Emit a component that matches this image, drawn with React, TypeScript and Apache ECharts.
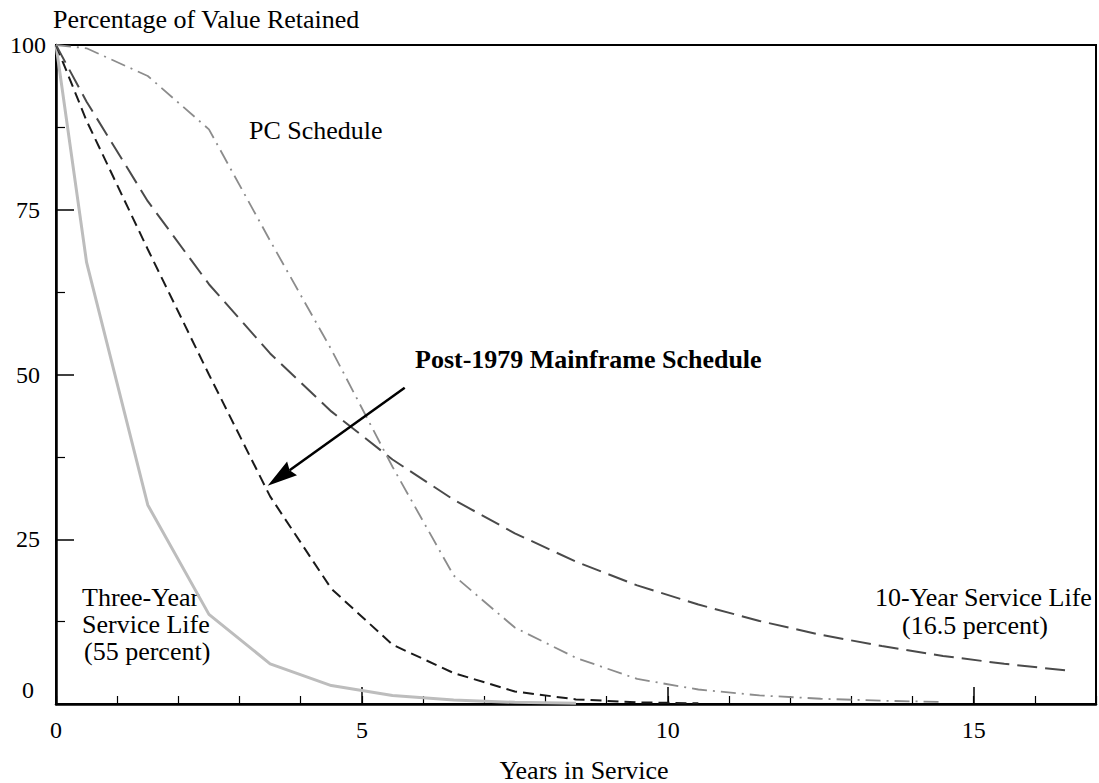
import React, { useEffect, useRef } from "react";
import * as echarts from "echarts";

// Years in service (half-year convention)
const years = [0, 0.5, 1.5, 2.5, 3.5, 4.5, 5.5, 6.5, 7.5, 8.5, 9.5, 10.5, 11.5, 12.5, 13.5, 14.5, 15.5, 16.5];

// Percentage of value retained
const threeYear = [100, 67, 30.2, 13.6, 6.1, 2.8, 1.3, 0.6, 0.25, 0.1];
const mainframe = [100, 88.5, 69, 50, 31.5, 17.5, 9, 4.7, 1.9, 0.7, 0.25, 0.1];
const tenYear = [100, 91.4, 76.3, 63.7, 53.2, 44.4, 37.1, 31, 25.9, 21.6, 18, 15.1, 12.6, 10.5, 8.8, 7.3, 6.1, 5.1];
const pcSchedule = [100, 99.5, 95.3, 87.2, 70.3, 53.8, 36, 19.5, 11.6, 7, 3.8, 2.2, 1.3, 0.8, 0.5, 0.3];

// Axis setup
const xMax = 17;
const xLabelStep = 5;
const yTickStep = 25;

// Arrow annotation (data coordinates)
const arrowFrom = [5.7, 48.0];
const arrowTo = [3.46, 33.1];

const FONT = "'Liberation Serif', 'Times New Roman', Times, serif";

const toPairs = (vals: number[]) => vals.map((v, i) => [years[i], v]);

export default function App() {
  const ref = useRef<HTMLDivElement>(null);

  useEffect(() => {
    if (!ref.current) return;
    const chart = echarts.init(ref.current, null, { renderer: "svg" });

    const txt = (text: string, x: number, y: number, opts: any = {}) => ({
      type: "text",
      x,
      y,
      silent: true,
      style: {
        text,
        fill: "#000",
        fontFamily: FONT,
        fontSize: opts.size || 26,
        fontWeight: opts.weight || "normal",
        textAlign: opts.align || "left",
        textVerticalAlign: "middle",
        lineHeight: opts.lineHeight,
        rich: opts.rich,
      },
    });

    const texts = [
      txt("Percentage of Value Retained", 53, 19),
      txt("Years in Service", 584, 770, { align: "center" }),
      txt("PC Schedule", 249, 130),
      txt("Post-1979 Mainframe Schedule", 415, 359, { weight: "bold" }),
      txt("Three-Year\nService Life\n{p|(55 percent)}", 82, 624, {
        lineHeight: 27,
        rich: { p: { fontFamily: FONT, fontSize: 26, lineHeight: 27, padding: [0, 0, 0, 2] } },
      }),
      txt("10-Year Service Life\n{p|(16.5 percent)}", 875, 611, {
        lineHeight: 28,
        rich: { p: { fontFamily: FONT, fontSize: 26, lineHeight: 28, padding: [0, 0, 0, 27] } },
      }),
    ];

    chart.setOption({
      animation: false,
      backgroundColor: "#fff",
      textStyle: { fontFamily: FONT },
      grid: {
        left: 56,
        right: 2,
        top: 45,
        bottom: 79,
        show: true,
        borderColor: "#000",
        borderWidth: 2,
        containLabel: false,
      },
      xAxis: [
        {
          type: "value",
          min: 0,
          max: xMax,
          interval: 1,
          position: "bottom",
          axisLine: { show: true, lineStyle: { color: "#000", width: 2.5 } },
          axisTick: { show: true, inside: true, length: 8, lineStyle: { color: "#000", width: 1.2 } },
          axisLabel: { show: false },
          splitLine: { show: false },
        },
        {
          type: "value",
          min: 0,
          max: xMax,
          interval: xLabelStep,
          position: "bottom",
          axisLine: { show: false },
          axisTick: { show: true, inside: true, length: 17, lineStyle: { color: "#000", width: 1.5 } },
          axisLabel: {
            show: true,
            color: "#000",
            fontFamily: FONT,
            fontSize: 24,
            margin: 14,
            formatter: (v: number) => (v % xLabelStep === 0 ? String(v) : ""),
          },
          splitLine: { show: false },
        },
      ],
      yAxis: {
        type: "value",
        min: 0,
        max: 100,
        interval: yTickStep,
        axisLine: { show: true, lineStyle: { color: "#000", width: 2.5 } },
        axisTick: { show: true, inside: true, length: 18, lineStyle: { color: "#000", width: 1.5 } },
        minorTick: { show: true, splitNumber: 2, length: 9, lineStyle: { color: "#000", width: 1.2 } },
        axisLabel: {
          show: true,
          color: "#000",
          fontFamily: FONT,
          fontSize: 24,
          align: "center",
          margin: 28,
          formatter: (v: number) => (v === 0 ? "{z|0}" : String(v)),
          rich: {
            z: { fontFamily: FONT, fontSize: 24, color: "#000", padding: [0, 0, 28, 0] },
          },
        },
        splitLine: { show: false },
      },
      series: [
        {
          name: "Three-Year Service Life",
          type: "line",
          data: toPairs(threeYear),
          showSymbol: false,
          symbol: "none",
          lineStyle: { color: "#bdbdbd", width: 3, type: "solid" },
          z: 2,
        },
        {
          name: "Post-1979 Mainframe Schedule",
          type: "line",
          data: toPairs(mainframe),
          showSymbol: false,
          symbol: "none",
          lineStyle: { color: "#1a1a1a", width: 2, type: [11, 6] },
          z: 3,
        },
        {
          name: "10-Year Service Life",
          type: "line",
          data: toPairs(tenYear),
          showSymbol: false,
          symbol: "none",
          lineStyle: { color: "#4a4a4a", width: 2, type: [20, 8] },
          z: 3,
        },
        {
          name: "PC Schedule",
          type: "line",
          data: toPairs(pcSchedule),
          showSymbol: false,
          symbol: "none",
          lineStyle: { color: "#8c8c8c", width: 1.8, type: [15, 6, 2, 6] },
          z: 3,
        },
      ],
      graphic: texts,
    });

    // Arrow: convert data coordinates to pixels
    const p0 = chart.convertToPixel({ seriesIndex: 1 }, arrowFrom) as number[];
    const p1 = chart.convertToPixel({ seriesIndex: 1 }, arrowTo) as number[];
    if (p0 && p1) {
      const dx = p1[0] - p0[0];
      const dy = p1[1] - p0[1];
      const len = Math.sqrt(dx * dx + dy * dy) || 1;
      const ux = dx / len;
      const uy = dy / len;
      const nx = -uy;
      const ny = ux;
      const headL = 30;
      const headW = 8.5;
      const bx = p1[0] - ux * headL;
      const by = p1[1] - uy * headL;
      const notchX = bx + ux * 3;
      const notchY = by + uy * 3;
      chart.setOption({
        graphic: [
          ...texts,
          {
            type: "line",
            silent: true,
            shape: { x1: p0[0], y1: p0[1], x2: notchX, y2: notchY },
            style: { stroke: "#000", lineWidth: 2.5 },
            z: 10,
          },
          {
            type: "polygon",
            silent: true,
            shape: {
              points: [
                [p1[0], p1[1]],
                [bx + nx * headW, by + ny * headW],
                [notchX, notchY],
                [bx - nx * headW, by - ny * headW],
              ],
            },
            style: { fill: "#000" },
            z: 10,
          },
        ],
      });
    }

    return () => chart.dispose();
  }, []);

  return (
    <div
      ref={ref}
      style={{ position: "absolute", left: 0, top: 0, width: 1099, height: 783, background: "#fff" }}
    />
  );
}
